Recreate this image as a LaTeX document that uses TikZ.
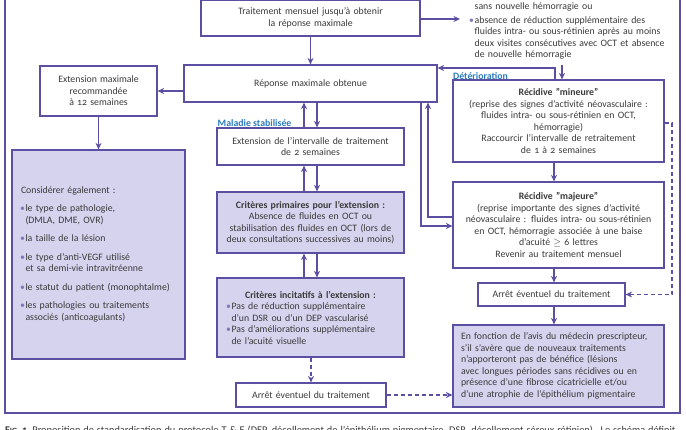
\documentclass[tikz,border=0pt]{standalone}
\usepackage{fontspec}
\setmainfont{Carlito}[Numbers=OldStyle]
\usetikzlibrary{arrows.meta}
\definecolor{linec}{HTML}{5A4FA0}
\definecolor{fillc}{HTML}{D6D3EE}
\definecolor{labc}{HTML}{2B7BBF}
\definecolor{txtc}{HTML}{3A3A3A}
\newcommand{\fs}{\fontsize{9.8}{11.5}\selectfont}
\newcommand{\bul}{\makebox[5.5pt][l]{\textcolor{linec!75}{\textbullet}}}
\newcommand{\hitem}{\par\hangindent=5.5pt\hangafter=1\noindent\bul}
\begin{document}
\begin{tikzpicture}[x=1pt,y=-1pt,
  box/.style={draw=linec, line width=1.2pt, fill=white, text=txtc, font=\fs, inner sep=0pt, align=center},
  lbox/.style={box, fill=fillc},
  arr/.style={draw=linec, line width=1.2pt, -{Stealth[length=6.5pt,width=6pt]}},
  darr/.style={arr, dash pattern=on 4pt off 3pt},
  lab/.style={font=\fs\bfseries, text=labc, inner sep=0pt},
  plain/.style={font=\fs, text=txtc, inner sep=0pt}]
\clip (0,0) rectangle (686,430);
\fill[white] (0,0) rectangle (686,430);
% outer frame
\draw[linec, line width=1.2pt] (5,-5) rectangle (680,413);

% boxes
\node[box, minimum width=219, minimum height=36, text width=210] (trait) at (310.5,18)
  {Traitement mensuel jusqu'à obtenir\\la réponse maximale};
\node[box, minimum width=253, minimum height=37, text width=240] (repmax) at (310.5,83.5)
  {Réponse maximale obtenue};
\node[box, minimum width=117, minimum height=50, text width=110] (extmax) at (98.5,91)
  {Extension maximale\\recommandée\\à 12 semaines};
\node[lbox, minimum width=173, minimum height=209, text width=157, inner xsep=8pt, align=left] (consid) at (98.5,254.5)
  {\noindent\hspace*{1pt}Considérer également :\par\vspace{6.5pt}
   \hitem le type de pathologie,\newline (DMLA, DME, OVR)\par\vspace{7pt}
   \hitem la taille de la lésion\par\vspace{7pt}
   \hitem le type d'anti-VEGF utilisé\newline et sa demi-vie intravitréenne\par\vspace{7pt}
   \hitem le statut du patient (monophtalme)\par\vspace{7pt}
   \hitem les pathologies ou traitements\newline associés (anticoagulants)\par};

\node[box, minimum width=187, minimum height=37, text width=183] (ext2) at (310.5,146.5)
  {Extension de l'intervalle de traitement\\de 2 semaines};
\node[lbox, minimum width=187, minimum height=61, text width=184] (crit1) at (310.5,222.5)
  {\textbf{Critères primaires pour l'extension :}\\Absence de fluides en OCT ou\\stabilisation des fluides en OCT (lors de\\deux consultations successives au moins)};
\node[lbox, minimum width=187, minimum height=79, text width=169, inner xsep=9pt, align=left] (crit2) at (310.5,317.5)
  {{\centering\textbf{Critères incitatifs à l'extension :}\par}
   \hitem Pas de réduction supplémentaire\newline d'un DSR ou d'un DEP vascularisé
   \hitem Pas d'améliorations supplémentaire\newline de l'acuité visuelle\par};
\node[box, minimum width=150, minimum height=24, text width=145] (arret1) at (311,395)
  {Arrêt éventuel du traitement};

\node[box, minimum width=211, minimum height=82, text width=207] (mineure) at (558.5,121)
  {\textbf{Récidive "mineure"}\\(reprise des signes d'activité néovasculaire :\\fluides intra- ou sous-rétinien en OCT,\\hémorragie)\\Raccourcir l'intervalle de retraitement\\de 1 à 2 semaines};
\node[box, minimum width=211, minimum height=86, text width=207] (majeure) at (558.5,225)
  {\textbf{Récidive "majeure"}\\(reprise importante des signes d'activité\\néovasculaire : fluides intra- ou sous-rétinien\\en OCT, hémorragie associée à une baise\\d'acuité {$\geq$} 6 lettres\\Revenir au traitement mensuel};
\node[box, minimum width=147, minimum height=23, text width=140] (arret2) at (551.5,294.5)
  {Arrêt éventuel du traitement};
\node[lbox, minimum width=211, minimum height=82, text width=201, inner xsep=5pt, align=left] (fonction) at (558.5,366)
  {\hspace*{3pt}En fonction de l'avis du médecin prescripteur,\\\hspace*{3pt}s'il s'avère que de nouveaux traitements\\\hspace*{3pt}n'apporteront pas de bénéfice (lésions\\\hspace*{3pt}avec longues périodes sans récidives ou en\\\hspace*{3pt}présence d'une fibrose cicatricielle et/ou\\\hspace*{3pt}d'une atrophie de l'épithélium pigmentaire};

% top-right text
\node[plain, anchor=north west, text width=212, align=left] (crittxt) at (469,2)
  {\noindent\hspace*{5.5pt}sans nouvelle hémorragie ou\par\vspace{2.5pt}
   \hitem absence de réduction supplémentaire des\newline fluides intra- ou sous-rétinien après au moins\newline deux visites consécutives avec OCT et absence\newline de nouvelle hémorragie\par};

% labels
\node[lab, anchor=west] (malstab) at (217.5,123) {Maladie stabilisée};
\node[lab, anchor=west] (deter) at (453,76) {Détérioration};

% helper coordinates
\coordinate (tip1) at (460,19);
\coordinate (detY) at (555,68);
\coordinate (txtend) at (562,65);
\coordinate (xA) at (421,226);
\coordinate (xB) at (428,217);
\coordinate (ax) at (554,0);
\coordinate (dR) at (672,123);

% connectors
\draw[arr] (trait) -- (repmax);
\draw[arr] (trait.east |- tip1) -- (tip1);
\draw[arr] (repmax.west |- extmax.east) -- (extmax.east);
\draw[arr] (extmax) -- (consid);

\draw[arr] ([xshift=-6.5pt]ext2.north) -- ([xshift=-6.5pt]repmax.south);
\draw[arr] ([xshift=6.5pt]repmax.south) -- ([xshift=6.5pt]ext2.north);
\draw[arr] ([xshift=-6.5pt]crit1.north) -- ([xshift=-6.5pt]ext2.south);
\draw[arr] ([xshift=6.5pt]ext2.south) -- ([xshift=6.5pt]crit1.north);
\draw[arr] ([xshift=-6.5pt]crit2.north) -- ([xshift=-6.5pt]crit1.south);
\draw[arr] ([xshift=6.5pt]crit1.south) -- ([xshift=6.5pt]crit2.north);
\draw[darr] (crit2.south -| arret1.north) -- (arret1.north);
\draw[darr] (arret1.east) -- (fonction.west |- arret1.east);

\draw[arr] (mineure.north -| detY) -- (detY) -- (repmax.east |- detY);
\draw[arr] (txtend) -- (txtend |- mineure.north);
\draw[arr] (repmax.south -| xA) -- (xA) -- (majeure.west |- xA);
\draw[arr] (majeure.west |- xB) -- (xB) -- (repmax.south -| xB);

\draw[arr] (mineure.south -| ax) -- (majeure.north -| ax);
\draw[arr] (majeure.south -| ax) -- (arret2.north -| ax);
\draw[arr] (arret2.south -| ax) -- (fonction.north -| ax);
\draw[darr] (mineure.east |- dR) -- (dR) -- (dR |- arret2.east) -- (arret2.east);

% caption (cut by the edge of the picture, as in the reference)
\node[anchor=base west, inner sep=0pt, text=txtc, font=\fontsize{10.3}{12}\selectfont] (cap) at (5,434)
  {\textbf{F{\fontsize{8}{9}\selectfont IG}. 1}\hspace{5pt}\makebox[643pt][s]{Proposition de standardisation du protocole T \& E (DEP, décollement de l'épithélium pigmentaire, DSR, décollement séreux rétinien). Le schéma définit}};
\end{tikzpicture}
\end{document}
